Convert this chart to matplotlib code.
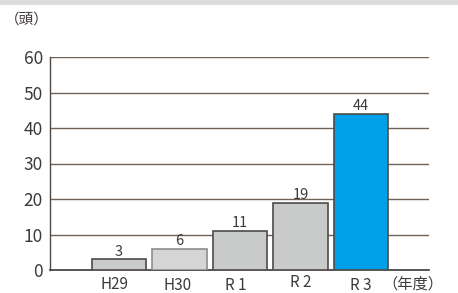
import matplotlib.pyplot as plt
from matplotlib.patches import Rectangle
from matplotlib.transforms import blended_transform_factory

plt.rcParams['font.family'] = ['Noto Sans CJK JP', 'DejaVu Sans']

# データ
years = ['H29', 'H30', 'R 1', 'R 2', 'R 3']
heads = [3, 6, 11, 19, 44]
face_colors = ['#c9caca', '#d5d5d6', '#c9caca', '#c9caca', '#00a0e9']
edge_colors = ['#4f4a48', '#8c8c8c', '#4f4a48', '#4f4a48', '#4f4a48']
yticks = [0, 10, 20, 30, 40, 50, 60]

text_color = '#3e3a39'
grid_color = '#6e6259'

fig = plt.figure(figsize=(4.58, 2.93), dpi=100)
fig.patches.append(Rectangle((0, 1 - 5 / 293), 1, 5 / 293, transform=fig.transFigure,
                             facecolor='#dcdddd', edgecolor='none'))

ax = fig.add_axes([50 / 458, 23 / 293, 379 / 458, 213 / 293])

x = list(range(len(years)))
ax.bar(x, heads, width=0.9, color=face_colors, edgecolor=edge_colors, linewidth=1.2, zorder=3)

for xi, v in zip(x, heads):
    ax.annotate(str(v), (xi, v), xytext=(0, 0.5), textcoords='offset points',
                ha='center', va='bottom', fontsize=10.5, color=text_color)

ax.set_xlim(-1.14, 5.12)
ax.set_ylim(0, 60)
ax.set_yticks(yticks)
ax.set_yticklabels([str(t) for t in yticks], fontsize=12.5, color=text_color)
ax.tick_params(axis='y', length=0, pad=5)
ax.set_xticks([])

ax.yaxis.grid(True, color=grid_color, linewidth=1)
ax.set_axisbelow(True)
for s in ['top', 'right']:
    ax.spines[s].set_visible(False)
ax.spines['left'].set_color('#4f4a48')
ax.spines['bottom'].set_color('#3e3a39')
ax.spines['left'].set_linewidth(1)
ax.spines['bottom'].set_linewidth(1.2)

# 年度ラベル（少しずつずれている）
trans = blended_transform_factory(ax.transData, ax.transAxes)
dx = [-0.07, -0.03, -0.08, 0.0, 0.0]
dy = [-0.068, -0.072, -0.075, -0.059, -0.075]
for xi, lab, ox, oy in zip(x, years, dx, dy):
    ax.text(xi + ox, oy, lab, transform=trans, ha='center', va='center',
            fontsize=11, color=text_color)
ax.text(4.85, -0.068, '（年度）', transform=trans, ha='center', va='center',
        fontsize=11, color=text_color)

fig.text(27 / 458, 1 - 20 / 293, '（頭）', ha='center', va='center',
         fontsize=10.5, color=text_color)

fig.savefig('out.png', dpi=100)
